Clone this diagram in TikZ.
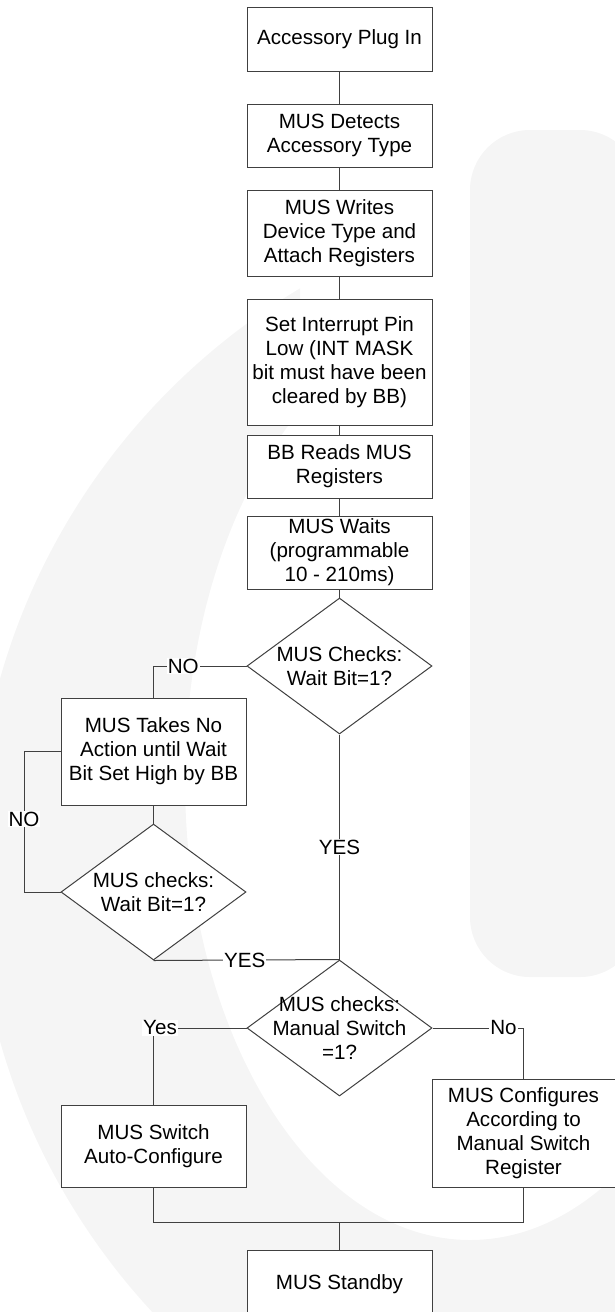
\documentclass[tikz,border=0pt]{standalone}
\usepackage{fontspec}
\setmainfont{Liberation Sans}
\usetikzlibrary{shapes.geometric}
\definecolor{wmark}{HTML}{F5F5F5}
\definecolor{edge}{HTML}{404040}

\begin{document}
\begin{tikzpicture}[x=1pt, y=-1pt,
	every node/.style={font=\fontsize{20.6}{24}\selectfont},
	box/.style={draw=edge, fill=white, line width=1pt, minimum width=185pt, align=center, inner sep=0pt},
	choice/.style={diamond, draw=edge, fill=white, line width=1pt, minimum width=185pt, minimum height=136pt, inner sep=0pt, label={[align=center]center:#1}},
	tag/.style={fill=white, inner sep=1pt},
	line/.style={draw=edge, line width=1pt}]
	\useasboundingbox (0,0) rectangle (615,1312);
	% watermark
	\begin{scope}
		\clip (-10,-10) -- (300,-10) -- (300,380) -- (640,380) -- (640,1330) -- (-10,1330) -- cycle;
		\fill[wmark, even odd rule] (640,860) circle (665pt) (470,780) ellipse (285pt and 460pt);
	\end{scope}
	\fill[wmark, rounded corners=60pt] (470,977) rectangle (640,130);
	% main column
	\node[box, minimum height=64pt] (plug) at (339.5,39.5) {Accessory Plug In};
	\node[box, minimum height=63pt] (detect) at (339.5,135.5) {MUS Detects\\Accessory Type};
	\node[box, minimum height=86pt] (writes) at (339.5,233) {MUS Writes\\Device Type and\\Attach Registers};
	\node[box, minimum height=126pt] (intpin) at (339.5,362) {Set Interrupt Pin\\Low (INT MASK\\bit must have been\\cleared by BB)};
	\node[box, minimum height=63pt] (reads) at (339.5,466.5) {BB Reads MUS\\Registers};
	\node[box, minimum height=73pt] (waits) at (339.5,552.5) {MUS Waits\\(programmable\\10 - 210ms)};
	\node[choice={MUS Checks:\\Wait Bit=1?}] (check1) at (339.5,666) {};
	% wait loop
	\node[box, minimum height=107pt] (noaction) at (153.5,751.5) {MUS Takes No\\Action until Wait\\Bit Set High by BB};
	\node[choice={MUS checks:\\Wait Bit=1?}] (check2) at (153.5,892) {};
	% switch
	\node[choice={MUS checks:\\Manual Switch\\=1?}] (check3) at (339.5,1028) {};
	\node[box, minimum height=82pt] (auto) at (153.5,1146) {MUS Switch\\Auto-Configure};
	\node[box, minimum width=183pt, minimum height=108pt] (manual) at (523.5,1133) {MUS Configures\\According to\\Manual Switch\\Register};
	\node[box, minimum height=68pt] (standby) at (339.5,1284) {MUS Standby};
	\coordinate (jn) at (339.5,1222);

	\draw[line] (plug) -- (detect);
	\draw[line] (detect) -- (writes);
	\draw[line] (writes) -- (intpin);
	\draw[line] (intpin) -- (reads);
	\draw[line] (reads) -- (waits);
	\draw[line] (waits) -- (check1);
	\draw[line] (check1.west) -| node[tag, pos=0.34] {NO} (noaction.north);
	\draw[line] (noaction) -- (check2);
	\draw[line] (check2.west) -- ++(-36.5,0) |- node[tag, pos=0.26] {NO} (noaction.west);
	\draw[line] (check1.south) -- node[tag, pos=0.5] {YES} (check3.north);
	\draw[line] (check2.south) -- node[tag, pos=0.49] {YES} (check3.north);
	\draw[line] (check3.west) -| node[tag, pos=0.465] {Yes} (auto.north);
	\draw[line] (check3.east) -| node[tag, pos=0.39] {No} (manual.north);
	\draw[line] (auto) |- (jn) -| (manual);
	\draw[line] (jn) -- (standby);
\end{tikzpicture}
\end{document}
